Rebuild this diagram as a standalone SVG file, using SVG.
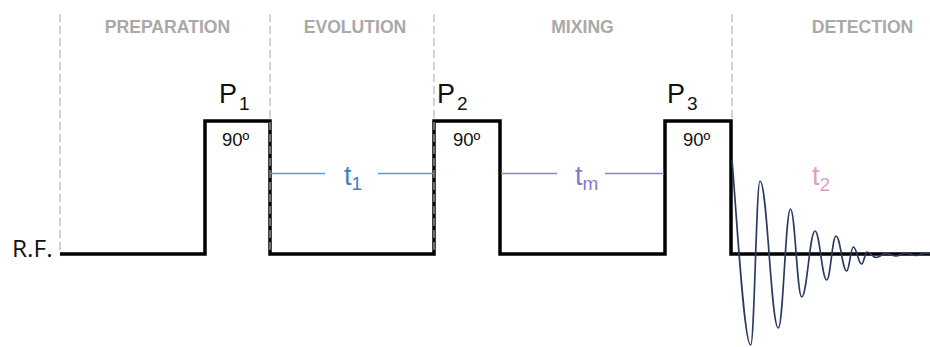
<svg xmlns="http://www.w3.org/2000/svg" width="930" height="347" viewBox="0 0 930 347">
<style>
.sec{font-family:"Liberation Sans",Arial,sans-serif;font-weight:bold;font-size:17.6px;fill:#a9a9a9;text-anchor:middle}
.guide{stroke:#b5b5b5;stroke-width:1.2;stroke-dasharray:8 4;fill:none}
.pl{font-family:"Liberation Sans",Arial,sans-serif;font-size:27px;fill:#111}
.sub{font-size:19px}
.ang{font-family:"Liberation Sans",Arial,sans-serif;font-size:18.5px;fill:#111}
.tl{font-family:"Liberation Sans",Arial,sans-serif;font-size:27px}
</style>
<rect width="930" height="347" fill="#fff"/>
<g id="sections">
<text class="sec" x="167.5" y="33">PREPARATION</text>
<text class="sec" x="355" y="33">EVOLUTION</text>
<text class="sec" x="582.5" y="33">MIXING</text>
<text class="sec" x="862.5" y="33">DETECTION</text>
</g>
<g id="rf-label">
<text x="12" y="257" font-family="'Open Sans','Liberation Sans',sans-serif" font-size="24.5" fill="#111">R.F.</text>
</g>
<g id="sequence">
<path d="M60,254 H205 V121 H270 V254 H434 V121 H500 V254 H665 V121 H731 V254 H930" fill="none" stroke="#000" stroke-width="3.5" stroke-linejoin="miter"/>
</g>
<g id="guides">
<line class="guide" x1="60" y1="14" x2="60" y2="252"/>
<line class="guide" x1="270" y1="14" x2="270" y2="254"/>
<line class="guide" x1="434" y1="14" x2="434" y2="254"/>
<line class="guide" x1="732" y1="14" x2="732" y2="120"/>
</g>
<g id="pulse-p1">
<text class="pl" x="219" y="103">P<tspan class="sub" dy="7" dx="2">1</tspan></text>
<text class="ang" x="222" y="146">90º</text>
</g>
<g id="pulse-p2">
<text class="pl" x="437" y="103">P<tspan class="sub" dy="7" dx="2">2</tspan></text>
<text class="ang" x="453" y="146">90º</text>
</g>
<g id="pulse-p3">
<text class="pl" x="667" y="103">P<tspan class="sub" dy="7" dx="2">3</tspan></text>
<text class="ang" x="683" y="146">90º</text>
</g>
<g id="delays">
<line x1="271" y1="173.5" x2="325" y2="173.5" stroke="#5b9bd5" stroke-width="1.5"/>
<line x1="378" y1="173.5" x2="433" y2="173.5" stroke="#5b9bd5" stroke-width="1.5"/>
<text class="tl" x="344" y="185" fill="#3f7fc4">t<tspan class="sub" dy="5">1</tspan></text>
<line x1="501" y1="173.5" x2="557" y2="173.5" stroke="#8b80d8" stroke-width="1.5"/>
<line x1="605" y1="173.5" x2="664" y2="173.5" stroke="#8b80d8" stroke-width="1.5"/>
<text class="tl" x="575" y="185" fill="#8877cc">t<tspan class="sub" dy="5">m</tspan></text>
<text class="tl" x="812" y="185" fill="#d9a3c6">t<tspan class="sub" dy="6">2</tspan></text>
</g>
<g id="fid">
<path d="M732,160 C737,220 744,345 750.7,345 C754.4,345 756.3,181 760,181 C767.3,181 771,328 778.3,328 C783.2,328 785.6,209 790.5,209 C795,209 797.2,297 801.7,297 C807,297 809.7,231 815,231 C819.7,231 822,280 826.7,280 C830.4,280 832.3,236 836,236 C840.3,236 842.4,271 846.7,271 C849.3,271 850.7,247 853.3,247 C856.7,247 858.3,264 861.7,264 C863.8,264 864.9,252 867,252 C870.6,252 872.4,257.5 876,257.5 C880,257.5 882,253.5 886,253.5 C890,253.5 892,256 896,256 C900,256 902,253 906,253 C910,253 912,255.5 916,255.5 C920,255.5 922,253 926,253 L930,253.5" fill="none" stroke="#2a3a62" stroke-width="1.7"/>
</g>
</svg>
